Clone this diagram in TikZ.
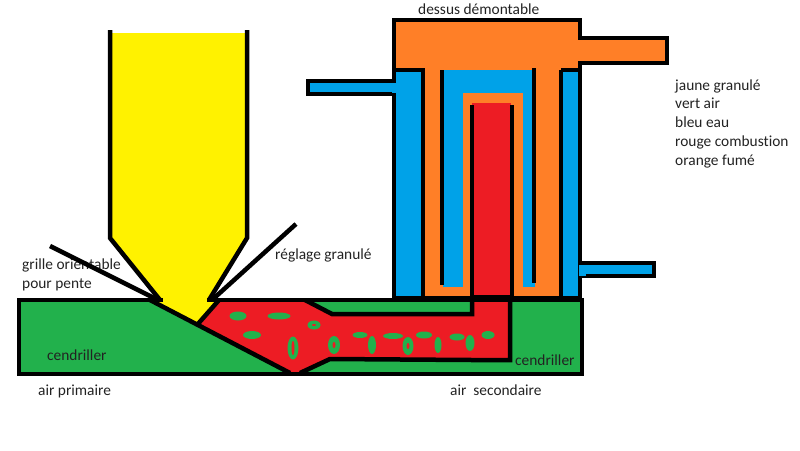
\documentclass[tikz,border=0pt]{standalone}
\usepackage{fontspec}
\setmainfont[Ligatures=CommonOff]{Carlito}
\definecolor{jaune}{HTML}{FFF200}
\definecolor{vert}{HTML}{22B14C}
\definecolor{bleu}{HTML}{00A2E8}
\definecolor{rouge}{HTML}{ED1C24}
\definecolor{orange}{HTML}{FF7F27}
\definecolor{texte}{HTML}{222222}
\begin{document}
\begin{tikzpicture}[x=1pt, y=-1pt, line join=miter, wall/.style={draw=black,line width=4.5pt},
  label text/.style={font=\fontsize{15.4}{17}\selectfont,text=texte,anchor=base west,inner sep=0pt},
  bubble/.style={fill=vert}]
\useasboundingbox (0,0) rectangle (800,450);
% cendrier
\fill[vert] (19,300) rectangle (582,374);
% labels under the lines
\begin{scope}[every node/.style={label text}]
\node (grille) at (22,269) {grille orientable};
\node (pente) at (22,288) {pour pente};
\node (reglage) at (275,259) {réglage granulé};
\node (cendrA) at (47,360) {cendriller};
\node (cendrB) at (515,365) {cendriller};
\node (primaire) at (38,395) {air primaire};
\node (secondaire) at (450,395) {air\ \ secondaire};
\node (dessus) at (418,14) {dessus démontable};
\node (jaune) at (675,90) {jaune granulé};
\node (vert) at (675,108) {vert air};
\node (bleu) at (675,127) {bleu eau};
\node (rouge) at (675,146) {rouge combustion};
\node (fume) at (675,165) {orange fumé};
\end{scope}
% tremie
\fill[jaune] (110,33) -- (247,33) -- (247,238) -- (210,300) -- (217,303) -- (197,325) -- (153,302) -- (160,300) -- (110,238) -- cycle;
\draw[wall] (110,30) -- (110,238) -- (160,300);
\draw[wall] (247,30) -- (247,238) -- (209,300);
% foyer
\fill[rouge] (197,325) -- (217,302) -- (305,302) -- (332,314) -- (472,314) -- (472,300) -- (510,300) -- (510,360) -- (330,360) -- (300,372) -- (288,372) -- cycle;
% echangeur
\fill[bleu] (394,70) rectangle (580,298);
\fill[orange] (394,20) rectangle (580,70);
\fill[orange] (580,38) rectangle (667,63);
\fill[orange] (425,68) rectangle (443,297);
\fill[orange] (535,68) rectangle (561,297);
\fill[orange] (425,287) rectangle (561,297);
\fill[orange] (463,93) rectangle (523,297);
\fill[rouge] (472,103) rectangle (511,297);
% tuyaux d'eau
\fill[bleu] (308,83) rectangle (400,92);
\fill[bleu] (578,264) rectangle (652,275);
\begin{scope}[every path/.style={wall}]
\draw (580,38) -- (667,38) -- (667,63) -- (580,63);
\draw (394,81) -- (308,81) -- (308,94) -- (394,94);
\draw (580,263) -- (654,263) -- (654,276) -- (580,276);
\draw (394,20) rectangle (580,298);
\draw (394,70) -- (425,70);
\draw (561,70) -- (580,70);
\draw (423,70) -- (423,297);
\draw (561,70) -- (561,297);
\draw (442,70) -- (442,285);
\draw (534,66) -- (534,283);
\draw (472,105) -- (472,296);
\draw (512,105) -- (512,296);
\draw (470,297) -- (514,297);
\end{scope}
\fill[orange] (396,22) rectangle (578,68);
\fill[orange] (578,40) rectangle (665,61);
\fill[bleu] (392,83) rectangle (400,93);
\fill[bleu] (579,265) rectangle (586,276);
% bulles d'air
\foreach \px/\py/\rx/\ry in {238/316/8.5/4.5, 279/316/11.5/3.5, 314/325/6.5/4.5, 252/335/9/4, 293/348/5.5/11.5,
  334/345/6/9, 360/335/7.5/3, 393/336/10/3, 372/345/4/9, 408/346/5.5/9, 424/335/8/3.5,
  438/345/3.5/8, 457/337/7.5/3.5, 470/343/4.5/8, 488/335/6.5/4}
  \fill[bubble] (\px,\py) ellipse [x radius=\rx, y radius=\ry];
\fill[rouge] (293,348) ellipse [x radius=1.5, y radius=7];
\fill[rouge] (314,325) ellipse [x radius=2, y radius=1];
\fill[rouge] (334,345) ellipse [x radius=1.5, y radius=3];
\fill[rouge] (408,346) ellipse [x radius=1.5, y radius=3];
% parois
\begin{scope}[every path/.style={wall}]
\draw (163,300) -- (19,300) -- (19,374) -- (582,374) -- (582,300) -- (207,300);
\draw (50,246) -- (158,300);
\draw (150,300) -- (290,373);
\draw (296,224) -- (212,300);
\draw (197,325) -- (219,300);
\draw (305,300) -- (332,314) -- (472,314) -- (472,300);
\draw (510,298) -- (510,360) -- (472,360) -- (330,359) -- (300,373);
\end{scope}
\end{tikzpicture}
\end{document}
